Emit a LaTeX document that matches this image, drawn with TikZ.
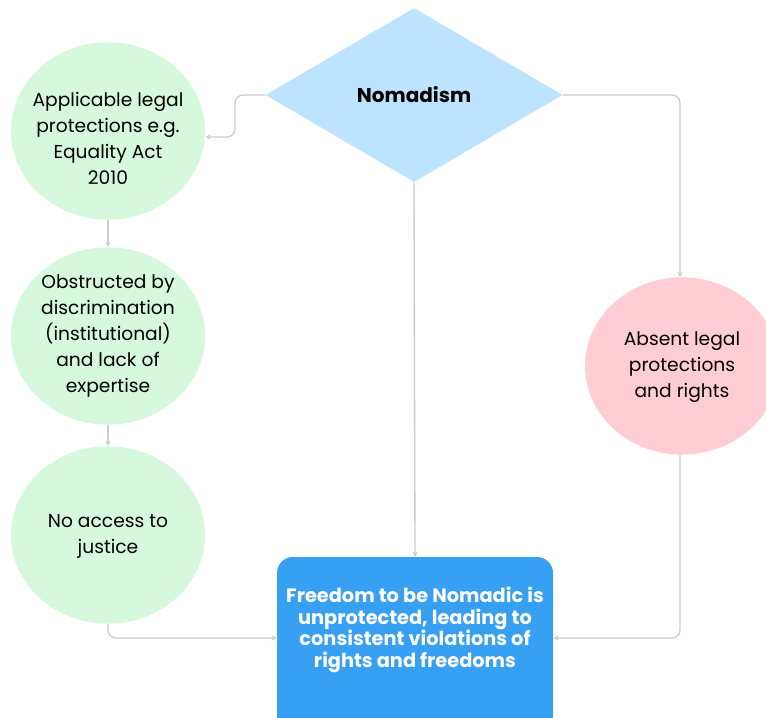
\documentclass[tikz,border=0pt]{standalone}
\usepackage{fontspec}
\setmainfont{Poppins}
\usetikzlibrary{shapes.geometric,arrows.meta}
\definecolor{greenfill}{HTML}{D6F8DD}
\definecolor{pinkfill}{HTML}{FFCDD3}
\definecolor{diafill}{HTML}{BEE3FE}
\definecolor{boxfill}{HTML}{38A0F2}
\definecolor{linegray}{HTML}{C9CED4}
\tikzset{
  x=0.75pt, y=-0.75pt,
  bubble/.style={ellipse, minimum width=145.5pt, minimum height=133pt, inner sep=0pt},
  greenbubble/.style={bubble, fill=greenfill},
  pinkbubble/.style={bubble, fill=pinkfill},
  bubbletext/.style={align=center, inner sep=0pt, font=\fontsize{14}{19.5}\selectfont, text=black},
  link/.style={draw=linegray, line width=1pt, rounded corners=6pt, -{Stealth[length=4pt,width=4pt]}},
}
\begin{document}
\begin{tikzpicture}
\useasboundingbox (0,0) rectangle (766,717);
\clip (0,0) rectangle (766,717);
\fill[white] (0,0) rectangle (766,717);
\node[diamond, fill=diafill, minimum width=222.75pt, minimum height=130.5pt, inner sep=0pt, aspect=1.7] (nom) at (414,95) {};
\node[font=\fontsize{15}{18}\selectfont\bfseries] (nomt) at (414,95) {Nomadism};
\node[greenbubble] (c1) at (108,131) {};
\node[bubbletext] (c1t) at (108,138) {Applicable legal\\protections e.g.\\Equality Act\\2010};
\node[greenbubble] (c2) at (108,336) {};
\node[bubbletext] (c2t) at (108,336) {Obstructed by\\discrimination\\(institutional)\\and lack of\\expertise};
\node[greenbubble] (c3) at (108,535) {};
\node[bubbletext] (c3t) at (108,536) {No access to\\justice};
\node[pinkbubble] (p) at (682,366) {};
\node[bubbletext] (pt) at (682,367) {Absent legal\\protections\\and rights};
\node[draw=none, fill=boxfill, rounded corners=12pt, minimum width=207pt, minimum height=150pt, inner sep=0pt] (box) at (415,657) {};
\node[text=white, align=center, font=\fontsize{14.5}{16.3}\selectfont\bfseries] (boxt) at (415,630) {Freedom to be Nomadic is\\unprotected, leading to\\consistent violations of\\rights and freedoms};
\coordinate (k1) at (235,95);
\coordinate (k2) at (680,95);
\coordinate (k3) at (108,638);
\coordinate (k4) at (680,638);
\draw[link] (nom.west) -- (k1) |- (c1.east |- 0,137);
\draw[link] (nom.east) -- (k2) -- (k2 |- p.north);
\draw[link] (nom.south) -- (box.north);
\draw[link] (c1.south) -- (c2.north);
\draw[link] (c2.south) -- (c3.north);
\draw[link] (c3.south) -- (k3) -- (box.west |- k3);
\draw[link] (k4 |- p.south) -- (k4) -- (box.east |- k4);
\end{tikzpicture}
\end{document}
